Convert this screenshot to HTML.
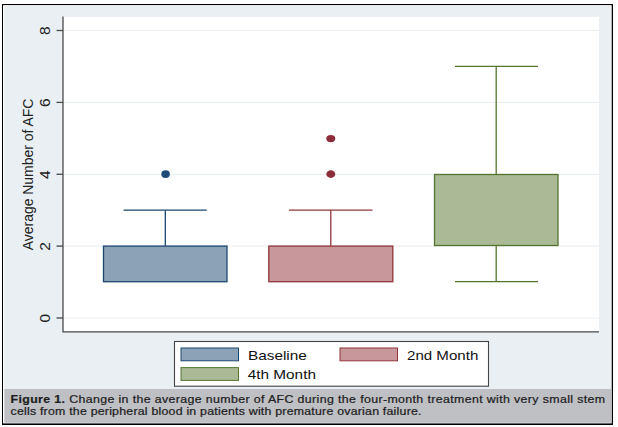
<!DOCTYPE html>
<html><head><meta charset="utf-8">
<style>
html,body{margin:0;padding:0;background:#fff;}
body{width:618px;height:427px;overflow:hidden;position:relative;font-family:"Liberation Sans",sans-serif;}
svg{position:absolute;left:0;top:0;}
</style></head>
<body>
<svg width="618" height="427" viewBox="0 0 618 427" font-family="Liberation Sans, sans-serif">
  <!-- graph region background -->
  <rect x="2" y="4" width="611" height="421" fill="#000"/>
  <rect x="3" y="5.1" width="608.7" height="418.3" fill="#fff"/>
  <rect x="4.3" y="6.1" width="606.6" height="383" fill="#e9eff2"/>
  <!-- caption background -->
  <rect x="4.3" y="389" width="607" height="33.8" fill="#bfc0c4"/>
  <!-- plot region -->
  <rect x="63" y="17" width="536" height="315" fill="#ffffff"/>
  <!-- gridlines -->
  <g stroke="#ebf0f1" stroke-width="1.2">
    <line x1="63" x2="599" y1="30.5" y2="30.5"/>
    <line x1="63" x2="599" y1="102.4" y2="102.4"/>
    <line x1="63" x2="599" y1="174.3" y2="174.3"/>
    <line x1="63" x2="599" y1="246.1" y2="246.1"/>
    <line x1="63" x2="599" y1="318" y2="318"/>
  </g>
  <!-- axes -->
  <g stroke="#4a4a4a" stroke-width="1.3" fill="none">
    <path d="M63 16.5 V331.9 H599"/>
    <line x1="56.5" x2="63" y1="30.5" y2="30.5"/>
    <line x1="56.5" x2="63" y1="102.4" y2="102.4"/>
    <line x1="56.5" x2="63" y1="174.3" y2="174.3"/>
    <line x1="56.5" x2="63" y1="246.1" y2="246.1"/>
    <line x1="56.5" x2="63" y1="318" y2="318"/>
  </g>
  <!-- tick labels (rotated) -->
  <g font-size="15.5" fill="#222" text-anchor="middle">
    <text transform="translate(50.3,30.8) rotate(-90)">8</text>
    <text transform="translate(50.3,102.7) rotate(-90)">6</text>
    <text transform="translate(50.3,174.6) rotate(-90)">4</text>
    <text transform="translate(50.3,246.4) rotate(-90)">2</text>
    <text transform="translate(50.3,318.3) rotate(-90)">0</text>
  </g>
  <text transform="translate(33,174.5) rotate(-90)" font-size="14" textLength="151.5" lengthAdjust="spacingAndGlyphs" fill="#222" text-anchor="middle">Average Number of AFC</text>

  <!-- Box 1: Baseline -->
  <g stroke="#1a476f" stroke-width="1.3">
    <line x1="165.3" x2="165.3" y1="246.1" y2="210.2"/>
    <line x1="123.6" x2="206.7" y1="210.2" y2="210.2"/>
    <rect x="103.5" y="246.1" width="123.5" height="35.6" fill="#8ca3b7"/>
  </g>
  <ellipse cx="165.6" cy="174.1" rx="4.3" ry="3.9" fill="#1d4b78"/>

  <!-- Box 2: 2nd Month -->
  <g stroke="#90353b" stroke-width="1.3">
    <line x1="330.8" x2="330.8" y1="246.1" y2="210.2"/>
    <line x1="289" x2="372.5" y1="210.2" y2="210.2"/>
    <rect x="268.8" y="246.1" width="124" height="35.6" fill="#c7979b"/>
  </g>
  <ellipse cx="330.8" cy="138.6" rx="4.5" ry="3.6" fill="#8e2d3a"/>
  <ellipse cx="330.8" cy="174.1" rx="4.5" ry="3.8" fill="#8e2d3a"/>

  <!-- Box 3: 4th Month -->
  <g stroke="#55752f" stroke-width="1.3">
    <line x1="496.2" x2="496.2" y1="174.5" y2="66.4"/>
    <line x1="455" x2="538" y1="66.4" y2="66.4"/>
    <line x1="496.2" x2="496.2" y1="245.5" y2="281.7"/>
    <line x1="455" x2="538" y1="281.7" y2="281.7"/>
    <rect x="434.5" y="174.5" width="123.5" height="71" fill="#aaba97"/>
  </g>

  <!-- legend -->
  <rect x="174.5" y="341.5" width="314" height="44.7" fill="#fff" stroke="#444" stroke-width="1.1"/>
  <rect x="181" y="348" width="57.5" height="12.8" fill="#8ca3b7" stroke="#1a476f" stroke-width="1"/>
  <rect x="340" y="348" width="57.5" height="12.8" fill="#c7979b" stroke="#90353b" stroke-width="1"/>
  <rect x="181" y="367.6" width="57.5" height="12.8" fill="#aaba97" stroke="#55752f" stroke-width="1"/>
  <g font-size="13" fill="#111">
    <text x="247.9" y="359.6" textLength="59" lengthAdjust="spacingAndGlyphs">Baseline</text>
    <text x="407" y="359.6" textLength="71.3" lengthAdjust="spacingAndGlyphs">2nd Month</text>
    <text x="247.7" y="379.1" textLength="68.3" lengthAdjust="spacingAndGlyphs">4th Month</text>
  </g>

  <!-- caption -->
  <g font-size="10.3" fill="#1e1e1e" stroke="#1e1e1e" stroke-width="0.22">
    <text transform="translate(10.5,402.8) scale(1.2,1)" textLength="495.5" lengthAdjust="spacing"><tspan font-weight="bold">Figure 1.</tspan> Change in the average number of AFC during the four-month treatment with very small stem</text>
    <text transform="translate(10.5,415.1) scale(1.2,1)" textLength="342.5" lengthAdjust="spacing">cells from the peripheral blood in patients with premature ovarian failure.</text>
  </g>

  <!-- outer border -->

</svg>
</body></html>
